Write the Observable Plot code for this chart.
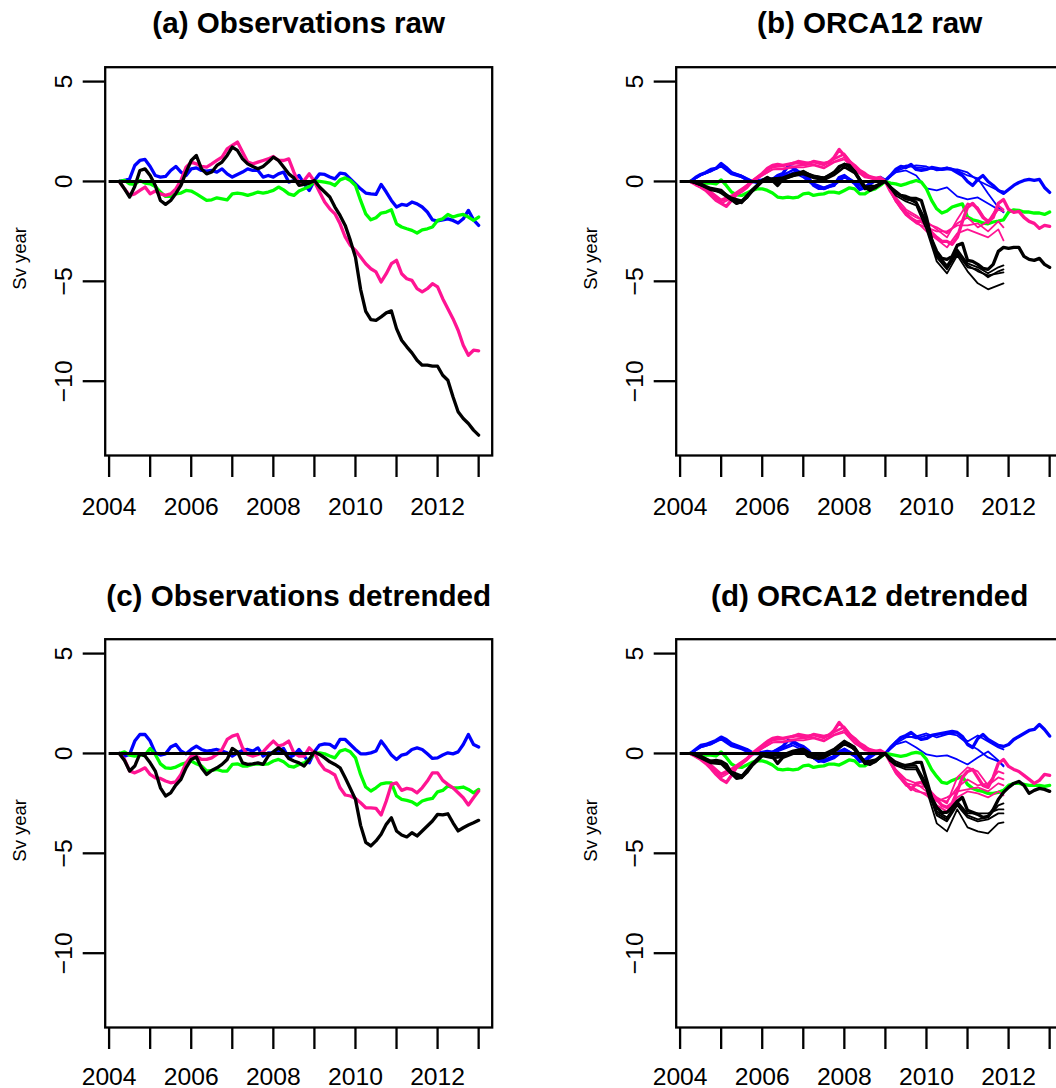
<!DOCTYPE html>
<html><head><meta charset="utf-8">
<script src="https://cdn.jsdelivr.net/npm/d3@7"></script>
<script src="https://cdn.jsdelivr.net/npm/@observablehq/plot@0.6"></script>
<style>
html,body{margin:0;padding:0;background:#fff;overflow:hidden;width:1056px;height:1088px;}
#root{position:relative;width:1056px;height:1088px;overflow:hidden;background:#fff;}
.panel{position:absolute;width:571px;height:572px;}
.panel svg{max-width:none !important;width:571px !important;height:572px !important;display:block;}
</style></head><body><div id="root"></div>
<script>
// ---------- time grids ----------
const yearsEighth = [2004.25,2004.375,2004.5,2004.625,2004.75,2004.875,
 2005,2005.125,2005.25,2005.375,2005.5,2005.625,2005.75,2005.875,
 2006,2006.125,2006.25,2006.375,2006.5,2006.625,2006.75,2006.875,
 2007,2007.125,2007.25,2007.375,2007.5,2007.625,2007.75,2007.875,
 2008,2008.125,2008.25,2008.375,2008.5,2008.625,2008.75,2008.875,
 2009,2009.125,2009.25,2009.375,2009.5,2009.625,2009.75,2009.875,
 2010,2010.125,2010.25,2010.375,2010.5,2010.625,2010.75,2010.875,
 2011,2011.125,2011.25,2011.375,2011.5,2011.625,2011.75,2011.875,
 2012,2012.125,2012.25,2012.375,2012.5,2012.625,2012.75,2012.875,
 2013];
const yearsQuarter = [2004.25,2004.5,2004.75,2005,2005.25,2005.5,2005.75,2006,2006.25,2006.5,
 2006.75,2007,2007.25,2007.5,2007.75,2008,2008.25,2008.5,2008.75,2009,
 2009.25,2009.5,2009.75,2010,2010.25,2010.5,2010.75,2011,2011.25,2011.5,2011.75,2011.875];

// ---------- axes ----------
const xTicks = [2004,2005,2006,2007,2008,2009,2010,2011,2012,2013];
const xLabelYears = [2004,2006,2008,2010,2012];
const yTicks = [5,0,-5,-10];
const refPeriod = [2004, 2009];
const titles = ["(a) Observations raw","(b) ORCA12 raw","(c) Observations detrended","(d) ORCA12 detrended"];
const yLabel = "Sv year";

// ---------- (a) observations raw ----------
const obsRawBlue = [0,0.05,0.13,0.8,1.05,1.1,
 0.75,0.3,0.22,0.25,0.55,0.75,0.47,0.3,
 0.63,0.68,0.55,0.52,0.55,0.47,0.63,0.38,
 0.22,0.35,0.47,0.63,0.55,0.55,0.22,0.3,
 0.22,0.38,0.47,-0.03,0.05,0.3,-0.12,-0.45,
 0.05,0.38,0.35,0.22,0.13,0.42,0.38,0.13,
 -0.12,-0.37,-0.58,-0.62,-0.65,-0.15,-0.53,-0.95,
 -1.28,-1.15,-1.2,-1.03,-1.12,-1.28,-1.53,-1.92,
 -1.98,-1.92,-1.87,-1.95,-2.08,-1.87,-1.45,-1.92,
 -2.2];
const obsRawGreen = [0,0.05,-0.12,-0.15,0.05,-0.08,
 -0.12,-0.25,-0.53,-0.75,-0.75,-0.62,-0.58,-0.45,
 -0.48,-0.62,-0.78,-0.95,-0.92,-0.82,-0.87,-0.92,
 -0.62,-0.58,-0.62,-0.7,-0.62,-0.53,-0.58,-0.53,
 -0.45,-0.28,-0.42,-0.62,-0.7,-0.48,-0.37,-0.25,
 0,0,-0.03,-0.08,-0.2,0.08,0.18,0.05,
 -0.2,-0.95,-1.62,-1.92,-1.82,-1.58,-1.53,-1.42,
 -2.12,-2.28,-2.37,-2.45,-2.58,-2.42,-2.37,-2.28,
 -1.95,-1.87,-1.65,-1.78,-1.7,-1.65,-1.78,-1.95,
 -1.78];
const obsRawPink = [0,-0.37,-0.7,-0.62,-0.45,-0.28,
 -0.62,-0.48,-0.62,-0.7,-0.62,-0.37,0.05,0.72,
 0.97,0.88,0.75,0.72,0.88,1.05,1.22,1.63,
 1.8,1.97,1.47,0.97,0.88,0.97,1.05,1.13,
 1.25,1.05,1.05,1.13,0.47,-0.12,0.05,0.38,
 0,-0.53,-1.03,-1.37,-1.62,-2.12,-2.78,-3.2,
 -3.45,-3.78,-4.12,-4.37,-4.53,-5.03,-4.62,-4.12,
 -3.95,-4.62,-4.87,-4.95,-5.37,-5.53,-5.37,-5.12,
 -5.28,-5.87,-6.37,-6.87,-7.45,-8.2,-8.7,-8.45,
 -8.48];
const obsRawBlack = [0,-0.37,-0.78,-0.25,0.55,0.63,
 0.3,-0.2,-0.95,-1.15,-0.95,-0.6,-0.2,0.47,
 1.05,1.3,0.63,0.38,0.47,0.8,0.97,1.3,
 1.72,1.55,1.13,0.88,0.75,0.63,0.75,0.97,
 1.22,1.05,0.72,0.38,0.18,-0.2,-0.15,-0.08,
 0.05,-0.28,-0.53,-0.78,-1.28,-1.7,-2.2,-2.95,
 -3.8,-5.4,-6.5,-6.92,-6.95,-6.78,-6.58,-6.48,
 -7.37,-7.95,-8.28,-8.58,-8.95,-9.2,-9.2,-9.25,
 -9.25,-9.7,-9.95,-10.78,-11.53,-11.87,-12.12,-12.45,
 -12.7];

// ---------- (c) observations detrended ----------
const obsDetBlue = [0,-0.13,-0.05,0.62,0.95,0.95,
 0.62,0.03,-0.08,-0.02,0.32,0.45,0.12,-0.02,
 0.2,0.37,0.2,0.12,0.15,0.2,0.12,0.03,
 -0.13,0.03,0.15,0.2,0.12,0.28,-0.13,0.03,
 0.03,0.12,0.25,-0.22,-0.08,0.2,-0.13,-0.47,
 0.08,0.42,0.48,0.45,0.28,0.7,0.7,0.45,
 0.2,-0.02,-0.02,0.03,0.12,0.62,0.28,-0.08,
 -0.3,-0.08,-0.02,0.2,0.28,0.2,-0.02,-0.25,
 -0.22,-0.08,0.03,-0.02,0.08,0.45,0.95,0.45,
 0.32];
const obsDetGreen = [0,0.08,-0.08,-0.13,-0.08,-0.08,
 0.25,-0.05,-0.52,-0.72,-0.75,-0.68,-0.55,-0.47,
 -0.38,-0.52,-0.63,-0.88,-0.85,-0.8,-0.88,-0.88,
 -0.55,-0.52,-0.63,-0.63,-0.55,-0.52,-0.55,-0.52,
 -0.38,-0.3,-0.42,-0.63,-0.68,-0.55,-0.47,-0.3,
 -0.02,0.03,-0.02,-0.13,-0.22,0.12,0.2,0.08,
 -0.22,-1.05,-1.68,-1.88,-1.72,-1.52,-1.47,-1.47,
 -2.13,-2.3,-2.35,-2.42,-2.58,-2.38,-2.3,-2.25,
 -1.92,-1.85,-1.63,-1.72,-1.72,-1.68,-1.8,-1.97,
 -1.8];
const obsDetPink = [0,-0.3,-0.88,-0.97,-0.85,-0.72,
 -1.05,-1.22,-1.25,-1.38,-1.47,-1.42,-1.05,-0.47,
 -0.13,-0.13,-0.3,-0.3,-0.22,-0.05,0.2,0.7,
 0.87,0.95,0.28,-0.05,-0.13,-0.05,0.08,0.37,
 0.62,0.37,0.45,0.62,0.03,-0.13,-0.13,0.28,
 0.03,-0.47,-0.8,-0.92,-1.08,-1.72,-2.08,-2.13,
 -2.25,-2.47,-2.72,-2.72,-2.75,-3.08,-2.38,-1.55,
 -1.47,-1.85,-1.75,-1.8,-1.97,-1.72,-1.38,-0.97,
 -0.97,-1.35,-1.55,-1.72,-1.97,-2.22,-2.58,-2.22,
 -1.88];
const obsDetBlack = [0,-0.35,-0.88,-0.63,-0.02,-0.13,
 -0.47,-0.88,-1.72,-2.13,-1.97,-1.58,-1.3,-0.72,
 -0.3,-0.18,-0.72,-1.05,-0.85,-0.72,-0.55,-0.3,
 0.25,0.08,-0.47,-0.55,-0.52,-0.47,-0.55,-0.13,
 0.08,0.28,0.08,-0.25,-0.38,-0.47,-0.63,-0.3,
 0.08,-0.05,-0.22,-0.42,-0.55,-0.72,-1.22,-1.75,
 -2.3,-3.6,-4.45,-4.63,-4.38,-4.05,-3.55,-3.22,
 -3.88,-4.08,-4.18,-3.97,-4.13,-3.88,-3.63,-3.38,
 -3.05,-3.08,-3.02,-3.47,-3.88,-3.72,-3.58,-3.47,
 -3.35];

// ---------- (b) ORCA12 raw ----------
const orcaRawBlue = [0,0.2,0.35,0.45,0.6,0.65,
 0.9,0.7,0.45,0.35,0.25,0.1,0,-0.05,
 0.05,0.15,0.1,0.3,0.4,0.75,0.7,0.5,
 0.4,0.2,-0.2,-0.35,-0.35,-0.25,-0.2,0.2,
 0.3,0.1,-0.1,-0.4,-0.3,-0.1,0.1,0.2,
 0.05,0.3,0.6,0.75,0.7,0.85,0.6,0.55,
 0.6,0.7,0.65,0.6,0.65,0.6,0.45,0.3,
 0,-0.2,0.1,0.3,0,-0.2,-0.45,-0.6,
 -0.4,-0.2,-0.05,0.05,0.1,0.05,0.1,-0.3,
 -0.55];
const orcaRawGreen = [0,-0.03,-0.08,-0.08,-0.08,-0.12,
 0.08,-0.2,-0.53,-0.67,-0.7,-0.58,-0.45,-0.37,
 -0.37,-0.45,-0.58,-0.78,-0.82,-0.78,-0.82,-0.78,
 -0.62,-0.58,-0.7,-0.65,-0.62,-0.53,-0.53,-0.58,
 -0.45,-0.32,-0.37,-0.62,-0.62,-0.45,-0.37,-0.2,
 0,-0.08,-0.12,-0.2,-0.12,-0.03,0.05,-0.03,
 -0.37,-0.95,-1.37,-1.58,-1.48,-1.28,-1.2,-1.12,
 -1.78,-1.92,-1.98,-2.08,-2.12,-2.03,-1.98,-1.92,
 -1.53,-1.42,-1.45,-1.53,-1.53,-1.58,-1.58,-1.65,
 -1.53];
const orcaRawPink = [0,-0.15,-0.28,-0.45,-0.7,-0.95,
 -1.1,-1.25,-0.95,-0.65,-0.5,-0.3,0,0.2,
 0.4,0.65,0.8,0.85,0.8,0.85,0.9,1.0,
 0.95,0.9,1.0,0.95,0.9,0.95,1.2,1.6,
 1.3,1.0,0.8,0.55,0.4,0.2,0.15,0.2,
 0,-0.5,-0.9,-1.3,-1.6,-1.85,-2.0,-2.0,
 -2.2,-2.55,-2.8,-3.0,-3.0,-3.15,-2.8,-2.0,
 -1.3,-1.1,-1.4,-1.8,-2.0,-1.8,-1.1,-0.9,
 -1.4,-1.55,-1.5,-1.8,-2.0,-2.1,-2.35,-2.2,
 -2.25];
const orcaRawBlack = [0,-0.05,-0.12,-0.25,-0.35,-0.4,
 -0.45,-0.7,-0.9,-1.1,-1.0,-0.8,-0.45,-0.2,
 0.05,0.2,0.05,-0.2,0.1,0.2,0.3,0.4,
 0.5,0.35,0.25,0.2,0.15,0.25,0.45,0.75,
 0.85,0.8,0.5,0.1,-0.25,-0.45,-0.3,-0.1,
 0,-0.3,-0.5,-0.7,-0.75,-0.85,-0.85,-0.95,
 -1.8,-2.9,-3.5,-3.85,-3.9,-3.75,-3.2,-3.1,
 -3.95,-4.0,-4.15,-4.35,-4.4,-4.15,-3.5,-3.3,
 -3.35,-3.3,-3.3,-3.75,-3.9,-3.95,-3.85,-4.15,
 -4.3];
const orcaRawBlueMembers = [
 [0,0.35,0.55,0.85,0.45,0.3,0.05,0.1,0.15,0.35,0.55,0.3,-0.15,-0.35,-0.15,0.25,-0.05,-0.3,0.05,0.05, 0.55,0.8,0.7,0.65,0.6,0.7,0.55,0.3,0.15,-0.6,-1.3,-1.55],
 [0,0.3,0.5,0.8,0.4,0.25,0,0.05,0.1,0.3,0.6,0.35,-0.1,-0.3,-0.1,0.3,0,-0.25,0.1,0.05, 0.5,0.7,0.8,0.75,0.55,0.6,0.6,0.45,0.05,-0.2,-0.45,-0.5],
 [0,0.3,0.5,0.75,0.35,0.2,-0.05,0,0.05,0.25,0.45,0.2,-0.2,-0.4,-0.2,0.2,-0.1,-0.35,0,0.05, 0.45,0.55,0.3,-0.35,-0.45,-0.3,-0.75,-0.9,-0.8,-1.1,-1.4,-1.5]];
const orcaRawPinkMembers = [
 [0,-0.3,-0.6,-1.0,-0.8,-0.45,0,0.35,0.75,0.8,0.9,0.85,0.95,0.8,1.1,1.35,0.7,0.3,0.15,0, -1.0,-1.5,-1.8,-2.0,-2.4,-2.8,-1.9,-1.1,-1.3,-2.1,-1.4,-1.5],
 [0,-0.25,-0.65,-1.1,-0.85,-0.5,-0.05,0.3,0.6,0.65,0.75,0.8,0.85,0.7,1.0,1.2,0.6,0.2,0.1,0, -0.9,-1.6,-2.0,-2.5,-2.9,-3.3,-2.6,-2.4,-2.6,-2.8,-2.4,-2.95],
 [0,-0.3,-0.55,-0.95,-0.75,-0.4,0.05,0.4,0.7,0.75,0.95,0.9,1.0,0.9,1.15,1.4,0.75,0.35,0.2,0, -0.8,-1.4,-1.7,-2.1,-2.3,-2.6,-2.1,-1.8,-2.3,-2.0,-1.2,-1.4],
 [0,-0.2,-0.5,-0.9,-0.7,-0.35,0,0.3,0.6,0.6,0.7,0.7,0.8,0.65,0.95,1.1,0.55,0.25,0.1,0, -1.0,-1.7,-2.1,-2.3,-2.5,-2.5,-2.2,-2.2,-2.1,-2.5,-2.0,-2.3]];
const orcaRawBlackMembers = [
 [0,-0.2,-0.45,-0.55,-0.9,-1.05,-0.5,0.05,0.15,0.2,0.35,0.4,0.2,0.1,0.35,0.75,0.45,-0.35,-0.25,0, -0.6,-0.9,-1.0,-2.0,-3.6,-4.2,-3.4,-4.1,-4.3,-4.6,-4.3,-4.2],
 [0,-0.15,-0.4,-0.5,-0.85,-1.0,-0.45,0,0.1,0.15,0.3,0.5,0.25,0.2,0.45,0.9,0.55,-0.3,-0.3,0, -0.6,-0.8,-1.1,-2.2,-3.8,-4.4,-3.6,-4.3,-4.4,-4.8,-4.5,-4.4],
 [0,-0.2,-0.35,-0.6,-0.95,-1.1,-0.55,-0.05,0.05,0.1,0.25,0.35,0.15,0.05,0.3,0.7,0.4,-0.4,-0.35,0, -0.7,-1.0,-1.2,-2.4,-4.0,-4.6,-3.7,-4.5,-5.1,-5.4,-5.2,-5.1],
 [0,-0.1,-0.4,-0.45,-0.8,-0.95,-0.4,0.05,0.15,0.2,0.4,0.5,0.3,0.2,0.5,0.85,0.5,-0.25,-0.2,0, -0.5,-0.9,-1.0,-2.1,-3.7,-4.3,-3.5,-4.2,-4.5,-4.7,-4.6,-4.55]];

// ---------- (d) ORCA12 detrended ----------
const orcaDetBlue = [0,0.2,0.4,0.45,0.55,0.65,
 0.82,0.7,0.5,0.4,0.3,0.2,0.05,0,
 0.05,0.1,0.05,0.2,0.35,0.65,0.6,0.45,
 0.35,0.15,-0.2,-0.4,-0.35,-0.25,-0.15,0.1,
 0.2,0.05,-0.1,-0.4,-0.35,-0.1,0.05,0.1,
 0,0.3,0.55,0.8,0.9,1.05,0.85,0.7,
 0.75,0.9,0.95,1.0,1.05,1.1,1.05,0.85,
 0.45,0.3,0.75,0.95,0.7,0.55,0.4,0.35,
 0.45,0.7,0.85,1.0,1.15,1.2,1.45,1.2,
 0.87];
const orcaDetGreen = [0,-0.03,-0.08,-0.08,-0.08,-0.12,
 0.08,-0.2,-0.53,-0.67,-0.7,-0.58,-0.45,-0.37,
 -0.37,-0.45,-0.58,-0.78,-0.82,-0.78,-0.82,-0.78,
 -0.62,-0.58,-0.7,-0.65,-0.62,-0.53,-0.53,-0.58,
 -0.45,-0.32,-0.37,-0.62,-0.62,-0.45,-0.37,-0.2,
 0,-0.05,-0.1,-0.15,-0.1,0,0.05,0,
 -0.3,-0.8,-1.15,-1.45,-1.5,-1.35,-1.25,-1.15,
 -1.55,-1.75,-1.85,-1.9,-2.0,-2.0,-1.95,-1.85,
 -1.6,-1.5,-1.5,-1.55,-1.6,-1.6,-1.6,-1.65,
 -1.6];
const orcaDetPink = [0,-0.15,-0.3,-0.5,-0.75,-1.05,
 -1.3,-1.45,-1.1,-0.7,-0.5,-0.3,0,0.2,
 0.4,0.6,0.75,0.8,0.75,0.8,0.85,0.95,
 0.9,0.85,0.95,0.9,0.85,0.9,1.15,1.55,
 1.25,0.95,0.75,0.5,0.35,0.15,0.1,0.15,
 0,-0.45,-0.9,-1.2,-1.5,-1.8,-1.5,-1.45,
 -1.7,-2.0,-2.3,-2.6,-2.7,-2.5,-1.9,-1.2,
 -0.9,-0.8,-1.2,-1.6,-1.7,-1.2,-0.5,-0.3,
 -0.65,-0.8,-0.9,-1.1,-1.3,-1.5,-1.35,-1.05,
 -1.1];
const orcaDetBlack = [0,-0.05,-0.15,-0.3,-0.4,-0.35,
 -0.4,-0.55,-1.0,-1.25,-1.2,-0.95,-0.6,-0.35,
 -0.1,-0.05,-0.15,-0.5,-0.2,-0.1,0,0.05,
 0.1,-0.15,-0.2,-0.25,-0.2,-0.05,0.1,0.4,
 0.5,0.45,0.2,-0.15,-0.45,-0.55,-0.4,-0.15,
 0,-0.35,-0.55,-0.6,-0.6,-0.55,-0.45,-0.45,
 -1.3,-2.2,-2.7,-2.95,-2.95,-2.7,-2.4,-2.2,
 -2.85,-2.95,-3.05,-3.2,-3.15,-2.8,-2.3,-1.95,
 -1.7,-1.5,-1.4,-1.6,-2.0,-1.85,-1.75,-1.8,
 -1.9];
const orcaDetBlueMembers = [
 [0,0.35,0.5,0.8,0.45,0.3,0.05,0.05,0.1,0.3,0.5,0.25,-0.2,-0.4,-0.2,0.2,-0.1,-0.35,0,0, 0.6,0.9,0.75,0.9,0.95,1.0,0.9,0.5,0.2,-0.2,-0.4,-0.6],
 [0,0.3,0.45,0.75,0.4,0.25,0,0,0.05,0.25,0.55,0.3,-0.15,-0.35,-0.15,0.25,-0.05,-0.3,0.05,0, 0.5,0.8,0.85,1.0,0.8,0.95,1.05,0.6,0.9,0.6,0.3,0.2],
 [0,0.3,0.45,0.7,0.35,0.2,-0.05,-0.05,0,0.2,0.4,0.15,-0.25,-0.45,-0.25,0.15,-0.15,-0.4,-0.05,0, 0.45,0.6,0.3,-0.05,-0.15,-0.1,-0.3,-0.55,-0.2,0.1,-0.35,-0.65]];
const orcaDetPinkMembers = [
 [0,-0.3,-0.65,-1.1,-0.85,-0.5,-0.05,0.3,0.7,0.75,0.85,0.8,0.9,0.75,1.05,1.3,0.65,0.25,0.1,0, -0.9,-1.5,-1.6,-1.7,-2.2,-2.5,-1.2,-0.7,-0.9,-1.6,-1.2,-1.3],
 [0,-0.25,-0.7,-1.2,-0.9,-0.55,-0.1,0.25,0.55,0.6,0.7,0.75,0.8,0.65,0.95,1.15,0.55,0.15,0.05,0, -1.0,-1.6,-1.8,-2.1,-2.6,-2.9,-2.2,-1.9,-2.0,-2.2,-1.9,-2.1],
 [0,-0.3,-0.6,-1.05,-0.8,-0.45,0,0.35,0.65,0.7,0.9,0.85,0.95,0.85,1.1,1.35,0.7,0.3,0.15,0, -0.8,-1.3,-1.5,-1.9,-2.3,-2.4,-1.7,-1.3,-1.6,-1.5,-0.9,-1.0],
 [0,-0.2,-0.55,-1.0,-0.75,-0.4,-0.05,0.25,0.55,0.55,0.65,0.65,0.75,0.6,0.9,1.05,0.5,0.2,0.05,0, -0.9,-1.6,-1.9,-2.0,-2.4,-2.2,-1.9,-1.8,-1.7,-1.9,-1.5,-1.6]];
const orcaDetBlackMembers = [
 [0,-0.2,-0.45,-0.5,-1.0,-1.2,-0.6,-0.1,-0.2,-0.15,0.05,0.15,-0.2,-0.15,0.1,0.5,0.25,-0.5,-0.4,0, -0.5,-0.7,-0.7,-1.6,-3.0,-3.3,-2.5,-3.1,-3.3,-3.2,-2.6,-2.5],
 [0,-0.15,-0.4,-0.45,-0.95,-1.15,-0.55,-0.05,-0.1,-0.1,0.1,0.2,-0.1,-0.1,0.2,0.6,0.3,-0.45,-0.35,0, -0.4,-0.6,-0.6,-1.5,-2.9,-3.2,-2.4,-3.0,-3.0,-3.0,-2.8,-2.8],
 [0,-0.25,-0.5,-0.55,-1.05,-1.25,-0.65,-0.15,-0.25,-0.2,0,0.05,-0.25,-0.2,0.05,0.45,0.2,-0.55,-0.45,0, -0.6,-0.8,-0.8,-1.8,-3.5,-3.9,-2.8,-3.7,-3.9,-4.0,-3.5,-3.45],
 [0,-0.1,-0.35,-0.4,-0.9,-1.1,-0.5,0,-0.05,-0.05,0.15,0.25,-0.05,0,0.25,0.65,0.35,-0.4,-0.3,0, -0.5,-0.7,-0.7,-1.7,-3.1,-3.4,-2.6,-3.2,-3.4,-3.3,-3.0,-3.0]];

// ---------- styling ----------
const COLORS = {blue: "#0000ff", green: "#00ff00", pink: "#ff1493", black: "#000000"};
const FONT = "'Liberation Sans', Arial, Helvetica, sans-serif";
const W = 571, H = 572;

function makePanel(title, thick, members, labelPad) {
  const marks = [];
  for (const key of ["blue", "green", "pink", "black"]) {
    for (const m of (members[key] || [])) {
      marks.push(Plot.line(m, {x: yearsQuarter, y: d => d, stroke: COLORS[key], strokeWidth: 1.8}));
    }
    marks.push(Plot.line(thick[key], {x: yearsEighth, y: d => d, stroke: COLORS[key], strokeWidth: 3.3}));
  }
  marks.push(Plot.ruleY([0], {x1: refPeriod[0], x2: refPeriod[1], stroke: "#000", strokeWidth: 3}));
  marks.push(Plot.frame({stroke: "#000", strokeWidth: 2.3}));
  marks.push(Plot.axisX(xTicks, {tickSize: 22, tickPadding: labelPad, fontSize: 24.7, strokeWidth: 2.3,
    tickFormat: d => xLabelYears.includes(d) ? String(d) : ""}));
  marks.push(Plot.axisY(yTicks, {tickSize: 22, tickPadding: 11, tickRotate: -90, textAnchor: "middle", lineAnchor: "bottom",
    fontSize: 24.7, strokeWidth: 2.3, tickFormat: d3.format("d")}));
  marks.push(Plot.text([title], {text: d => d, frameAnchor: "top", dy: -33.7, lineAnchor: "bottom",
    fontSize: 29.6, fontWeight: "bold", fill: "#000"}));
  marks.push(Plot.text([yLabel], {text: d => d, frameAnchor: "left", dx: -79.7, dy: -3, rotate: -90,
    textAnchor: "middle", lineAnchor: "bottom", fontSize: 18.5, fill: "#000"}));
  return Plot.plot({
    width: W, height: H,
    marginLeft: 104.7, marginRight: 79.3, marginTop: 66.7, marginBottom: 117,
    x: {domain: [2003.905, 2013.33], label: null},
    y: {domain: [-13.72, 5.72], label: null},
    style: {fontFamily: FONT, background: "transparent", color: "#000", overflow: "visible", maxWidth: "none"},
    marks
  });
}

const panels = [
  {left: 0, top: 0, svg: makePanel(titles[0], {blue: obsRawBlue, green: obsRawGreen, pink: obsRawPink, black: obsRawBlack}, {}, 20)},
  {left: 570.6, top: 0, svg: makePanel(titles[1], {blue: orcaRawBlue, green: orcaRawGreen, pink: orcaRawPink, black: orcaRawBlack},
     {blue: orcaRawBlueMembers, pink: orcaRawPinkMembers, black: orcaRawBlackMembers}, 20)},
  {left: 0, top: 571.6, svg: makePanel(titles[2], {blue: obsDetBlue, green: obsDetGreen, pink: obsDetPink, black: obsDetBlack}, {}, 17.5)},
  {left: 570.6, top: 571.6, svg: makePanel(titles[3], {blue: orcaDetBlue, green: orcaDetGreen, pink: orcaDetPink, black: orcaDetBlack},
     {blue: orcaDetBlueMembers, pink: orcaDetPinkMembers, black: orcaDetBlackMembers}, 17.5)}
];
const root = document.getElementById("root");
for (const p of panels) {
  const div = document.createElement("div");
  div.className = "panel";
  div.style.left = p.left + "px";
  div.style.top = p.top + "px";
  div.appendChild(p.svg);
  root.appendChild(div);
}
</script>
</body></html>
